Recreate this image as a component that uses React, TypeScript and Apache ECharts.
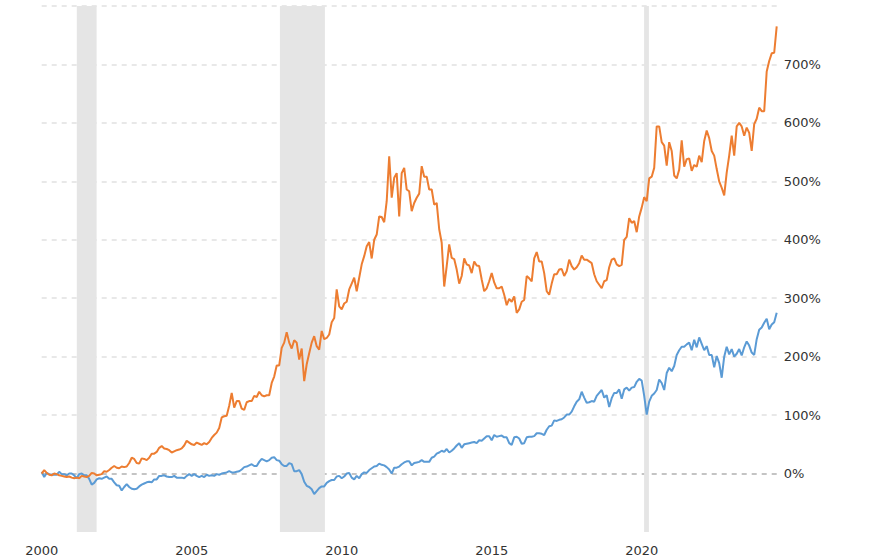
import React, { useEffect, useRef } from "react";
import * as echarts from "echarts";

const START_YEAR = 2000;

// Orange series, % change since Jan 2000, monthly (one row per year)
const orangeByYear: number[][] = [
  [0, 6, 1, -2, -3, 0, -1, -3, -4, -5, -6, -5],
  [-7, -8, -7, -8, -4, -5, -6, -4, 1, 0, -3, -2],
  [-1, 4, 3, 6, 10, 13, 10, 9, 12, 11, 12, 18],
  [27, 25, 18, 17, 26, 25, 23, 27, 34, 34, 37, 44],
  [47, 43, 42, 40, 36, 38, 40, 41, 43, 48, 56, 53],
  [50, 49, 53, 51, 49, 52, 50, 54, 61, 66, 70, 78],
  [96, 98, 99, 116, 138, 113, 124, 124, 111, 109, 122, 124],
  [124, 133, 131, 140, 134, 132, 134, 134, 155, 166, 185, 185],
  [215, 224, 242, 224, 214, 228, 224, 195, 214, 158, 187, 206],
  [224, 235, 218, 212, 244, 230, 232, 238, 259, 266, 315, 286],
  [281, 291, 294, 315, 325, 335, 312, 335, 358, 372, 389, 396],
  [368, 400, 409, 440, 439, 430, 466, 543, 472, 506, 514, 440],
  [514, 523, 486, 483, 449, 463, 472, 479, 526, 508, 508, 486],
  [486, 460, 463, 418, 395, 320, 355, 392, 369, 367, 349, 325],
  [338, 368, 358, 356, 343, 363, 356, 355, 332, 312, 317, 329],
  [343, 327, 317, 317, 320, 306, 288, 299, 294, 303, 275, 281],
  [294, 297, 338, 334, 329, 368, 379, 363, 363, 343, 312, 306],
  [325, 341, 341, 349, 350, 338, 346, 366, 355, 349, 353, 360],
  [373, 366, 366, 363, 360, 341, 329, 323, 317, 329, 331, 353],
  [366, 368, 358, 355, 357, 400, 405, 437, 429, 432, 413, 440],
  [455, 473, 466, 505, 508, 523, 594, 594, 567, 561, 527, 567],
  [552, 510, 505, 520, 570, 525, 538, 539, 518, 528, 525, 544],
  [533, 569, 587, 574, 552, 544, 521, 500, 489, 476, 515, 544],
  [578, 544, 594, 600, 594, 578, 592, 583, 552, 598, 607, 626],
  [620, 620, 688, 706, 719, 720, 765],
];

// Blue series, % change since Jan 2000, monthly (one row per year)
const blueByYear: number[][] = [
  [3, -6, 1, -1, -2, -2, -2, 3, -1, -1, -3, 0],
  [0, -3, -8, -1, 0, -3, -3, -9, -19, -16, -10, -8],
  [-9, -7, -5, -9, -9, -15, -20, -21, -29, -23, -18, -23],
  [-26, -27, -26, -22, -19, -17, -15, -14, -15, -10, -10, -4],
  [-4, -3, -5, -6, -6, -4, -7, -7, -7, -8, -4, -1],
  [-4, -1, -4, -6, -4, -6, -2, -4, -3, -4, -1, -2],
  [0, 1, 2, 4, 2, 2, 3, 4, 7, 11, 12, 14],
  [16, 13, 13, 20, 25, 23, 21, 23, 27, 28, 23, 22],
  [16, 13, 13, 18, 16, 4, 4, 6, -1, -14, -21, -23],
  [-27, -35, -30, -25, -22, -22, -16, -13, -11, -11, -5, -4],
  [-8, -5, 0, 1, -7, -10, -4, -8, -1, 2, 1, 6],
  [9, 12, 13, 17, 15, 14, 11, 7, 0, 10, 10, 12],
  [16, 19, 21, 21, 14, 18, 19, 20, 23, 20, 20, 20],
  [27, 29, 34, 36, 39, 37, 42, 36, 39, 43, 48, 52],
  [44, 50, 51, 52, 53, 54, 52, 57, 56, 60, 64, 64],
  [57, 66, 63, 64, 65, 62, 62, 52, 49, 62, 63, 60],
  [51, 52, 62, 63, 63, 64, 69, 69, 68, 66, 75, 81],
  [82, 91, 90, 92, 93, 96, 101, 101, 106, 115, 123, 127],
  [140, 130, 121, 122, 124, 123, 133, 138, 143, 130, 134, 114],
  [129, 138, 138, 144, 128, 144, 147, 142, 147, 148, 157, 162],
  [159, 133, 101, 123, 133, 137, 143, 161, 155, 143, 172, 181],
  [175, 184, 203, 211, 217, 217, 221, 224, 211, 229, 216, 233],
  [222, 211, 218, 203, 203, 182, 201, 189, 164, 200, 217, 204],
  [213, 200, 205, 213, 202, 216, 226, 219, 207, 203, 230, 246],
  [250, 258, 265, 247, 255, 259, 275],
];

// Recession periods (decimal years)
const recessions: [number, number][] = [
  [2001.17, 2001.83],
  [2007.94, 2009.44],
  [2020.08, 2020.24],
];

const X_MIN = 2000;
const X_MAX = 2024.5;
const Y_MIN = -100;
const Y_MAX = 800;

function toSeries(rows: number[][]): [number, number][] {
  const out: [number, number][] = [];
  rows.forEach((row, yi) => {
    row.forEach((v, mi) => {
      out.push([START_YEAR + yi + mi / 12, v]);
    });
  });
  return out;
}

export default function App() {
  const ref = useRef<HTMLDivElement>(null);
  useEffect(() => {
    if (!ref.current) return;
    const chart = echarts.init(ref.current, undefined, { renderer: "svg" });
    const font = "DejaVu Sans, Verdana, sans-serif";
    const gridColors = ["rgba(0,0,0,0)", "#c4c4c4"];
    for (let i = 0; i < 8; i++) gridColors.push("#e8e8e8");
    chart.setOption({
      animation: false,
      backgroundColor: "#ffffff",
      grid: { left: 41.7, right: 111.3, top: 6, bottom: 28, containLabel: false },
      xAxis: {
        type: "value",
        min: X_MIN,
        max: X_MAX,
        interval: 5,
        axisLine: { show: false },
        axisTick: { show: false },
        splitLine: { show: false },
        axisLabel: {
          showMaxLabel: false,
          color: "#333",
          fontFamily: font,
          fontSize: 13,
          margin: 12,
          formatter: (v: number) => String(v),
        },
      },
      yAxis: {
        type: "value",
        position: "right",
        min: Y_MIN,
        max: Y_MAX,
        interval: 100,
        axisLine: { show: false },
        axisTick: { show: false },
        axisLabel: {
          showMinLabel: false,
          showMaxLabel: false,
          color: "#333",
          fontFamily: font,
          fontSize: 13,
          margin: 7,
          formatter: "{value}%",
        },
        splitLine: {
          show: true,
          lineStyle: { color: gridColors, width: 2, type: [5, 5] },
        },
      },
      series: [
        {
          type: "line",
          name: "recessions",
          data: [[X_MIN, 0]],
          showSymbol: false,
          symbol: "none",
          lineStyle: { opacity: 0 },
          silent: true,
          z: 1,
          markArea: {
            silent: true,
            itemStyle: { color: "#e5e5e5" },
            data: recessions.map(([a, b]) => [{ xAxis: a }, { xAxis: b }]),
          },
        },
        {
          type: "line",
          name: "blue",
          data: toSeries(blueByYear),
          showSymbol: false,
          symbol: "none",
          lineStyle: { color: "#5b9bd5", width: 2 },
          z: 3,
        },
        {
          type: "line",
          name: "orange",
          data: toSeries(orangeByYear),
          showSymbol: false,
          symbol: "none",
          lineStyle: { color: "#ed7d31", width: 2 },
          z: 4,
        },
      ],
    });
    return () => chart.dispose();
  }, []);
  return (
    <div
      ref={ref}
      style={{ position: "absolute", left: 0, top: 0, width: 888, height: 560 }}
    />
  );
}
